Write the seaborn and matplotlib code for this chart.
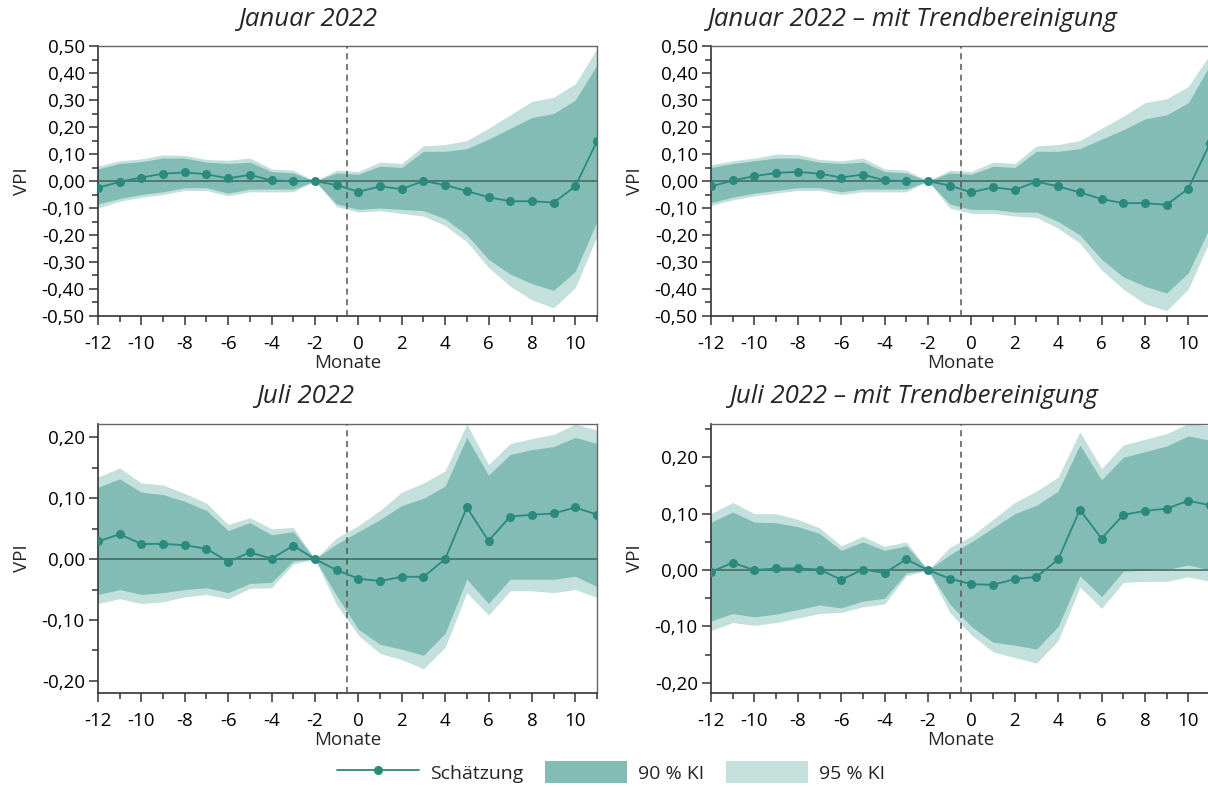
import numpy as np
import pandas as pd
import matplotlib
matplotlib.use("Agg")
import matplotlib.pyplot as plt
import matplotlib.ticker as mticker
from matplotlib.lines import Line2D
from matplotlib.patches import Patch
import seaborn as sns

# ---------------- data ----------------
months = list(range(-12, 12))

# Januar 2022
jan_est = [-0.025, -0.003, 0.013, 0.027, 0.032, 0.025, 0.010, 0.023, 0.002, 0.000, 0.0, -0.015,
           -0.040, -0.020, -0.030, 0.000, -0.015, -0.037, -0.060, -0.075, -0.075, -0.080, -0.020, 0.148]
jan_up90 = [0.045, 0.065, 0.072, 0.085, 0.085, 0.070, 0.065, 0.070, 0.035, 0.030, 0.0, 0.030,
            0.025, 0.055, 0.050, 0.110, 0.110, 0.120, 0.155, 0.195, 0.235, 0.250, 0.300, 0.430]
jan_up95 = [0.055, 0.075, 0.082, 0.097, 0.095, 0.080, 0.077, 0.085, 0.045, 0.040, 0.0, 0.040,
            0.035, 0.070, 0.065, 0.130, 0.135, 0.150, 0.195, 0.245, 0.295, 0.310, 0.360, 0.490]
jan_lo90 = [-0.085, -0.065, -0.050, -0.040, -0.025, -0.025, -0.045, -0.030, -0.030, -0.030, 0.0, -0.085,
            -0.105, -0.100, -0.105, -0.110, -0.140, -0.200, -0.290, -0.345, -0.380, -0.405, -0.335, -0.150]
jan_lo95 = [-0.100, -0.075, -0.060, -0.050, -0.035, -0.035, -0.055, -0.040, -0.040, -0.040, 0.0, -0.095,
            -0.115, -0.110, -0.120, -0.130, -0.165, -0.225, -0.320, -0.390, -0.440, -0.470, -0.395, -0.205]

# Januar 2022 - mit Trendbereinigung
jant_est = [-0.020, 0.002, 0.018, 0.030, 0.034, 0.027, 0.013, 0.024, 0.002, 0.000, 0.0, -0.017,
            -0.042, -0.023, -0.033, -0.002, -0.020, -0.042, -0.067, -0.082, -0.082, -0.088, -0.028, 0.140]
jant_up90 = [0.050, 0.065, 0.075, 0.085, 0.085, 0.070, 0.065, 0.070, 0.035, 0.030, 0.0, 0.030,
             0.025, 0.055, 0.050, 0.110, 0.110, 0.120, 0.155, 0.190, 0.230, 0.245, 0.290, 0.430]
jant_up95 = [0.060, 0.075, 0.085, 0.100, 0.098, 0.080, 0.075, 0.085, 0.045, 0.040, 0.0, 0.040,
             0.035, 0.070, 0.065, 0.130, 0.135, 0.150, 0.195, 0.240, 0.290, 0.305, 0.350, 0.470]
jant_lo90 = [-0.080, -0.060, -0.045, -0.035, -0.025, -0.025, -0.040, -0.030, -0.030, -0.030, 0.0, -0.085,
             -0.105, -0.105, -0.115, -0.115, -0.150, -0.200, -0.290, -0.355, -0.390, -0.415, -0.340, -0.170]
jant_lo95 = [-0.090, -0.070, -0.055, -0.045, -0.035, -0.035, -0.050, -0.040, -0.040, -0.040, 0.0, -0.100,
             -0.120, -0.120, -0.130, -0.135, -0.175, -0.230, -0.330, -0.400, -0.455, -0.480, -0.400, -0.220]

# Juli 2022
jul_est = [0.029, 0.041, 0.025, 0.025, 0.023, 0.017, -0.004, 0.011, 0.001, 0.022, 0.0, -0.018,
           -0.032, -0.036, -0.029, -0.029, 0.000, 0.085, 0.030, 0.070, 0.073, 0.075, 0.085, 0.073]
jul_up90 = [0.118, 0.132, 0.110, 0.106, 0.095, 0.080, 0.047, 0.060, 0.040, 0.045, 0.0, 0.025,
            0.045, 0.065, 0.088, 0.100, 0.120, 0.200, 0.138, 0.172, 0.180, 0.185, 0.200, 0.190]
jul_up95 = [0.135, 0.150, 0.125, 0.122, 0.108, 0.092, 0.057, 0.068, 0.050, 0.052, 0.0, 0.035,
            0.055, 0.080, 0.110, 0.125, 0.145, 0.222, 0.155, 0.190, 0.198, 0.205, 0.222, 0.212]
jul_lo90 = [-0.058, -0.050, -0.058, -0.055, -0.050, -0.047, -0.055, -0.040, -0.038, -0.003, 0.0, -0.060,
            -0.115, -0.140, -0.148, -0.158, -0.122, -0.033, -0.073, -0.033, -0.033, -0.033, -0.028, -0.045]
jul_lo95 = [-0.073, -0.065, -0.073, -0.070, -0.062, -0.058, -0.065, -0.048, -0.047, -0.008, 0.0, -0.075,
            -0.125, -0.155, -0.165, -0.180, -0.145, -0.055, -0.092, -0.052, -0.052, -0.055, -0.050, -0.063]

# Juli 2022 - mit Trendbereinigung
jult_est = [-0.003, 0.013, 0.000, 0.003, 0.003, 0.001, -0.017, 0.001, -0.005, 0.019, 0.0, -0.015,
            -0.025, -0.026, -0.016, -0.012, 0.019, 0.107, 0.056, 0.098, 0.105, 0.109, 0.123, 0.115]
jult_up90 = [0.085, 0.103, 0.085, 0.084, 0.077, 0.065, 0.035, 0.050, 0.035, 0.043, 0.0, 0.027,
             0.050, 0.075, 0.100, 0.115, 0.140, 0.222, 0.160, 0.200, 0.210, 0.220, 0.238, 0.230]
jult_up95 = [0.100, 0.120, 0.100, 0.100, 0.090, 0.075, 0.043, 0.060, 0.042, 0.050, 0.0, 0.040,
             0.060, 0.090, 0.120, 0.140, 0.165, 0.245, 0.180, 0.222, 0.232, 0.242, 0.260, 0.255]
jult_lo90 = [-0.090, -0.077, -0.083, -0.078, -0.070, -0.062, -0.067, -0.055, -0.050, -0.005, 0.0, -0.060,
             -0.100, -0.128, -0.133, -0.140, -0.100, -0.010, -0.047, -0.002, 0.000, 0.001, 0.009, 0.000]
jult_lo95 = [-0.107, -0.093, -0.098, -0.093, -0.085, -0.077, -0.075, -0.065, -0.060, -0.010, 0.0, -0.075,
             -0.115, -0.145, -0.155, -0.165, -0.125, -0.030, -0.068, -0.022, -0.020, -0.020, -0.012, -0.020]

titles = ["Januar 2022", "Januar 2022 \u2013 mit Trendbereinigung",
          "Juli 2022", "Juli 2022 \u2013 mit Trendbereinigung"]

# ---------------- style ----------------
sns.set_theme(style="white")
plt.rcParams["font.family"] = ["Open Sans", "DejaVu Sans"]

c_line = "#2b8a7d"
c_90 = "#82bcb4"
c_95 = "#c3e0dc"
c_zero = "#3e6660"

panels = [
    (titles[0], jan_est, jan_lo90, jan_up90, jan_lo95, jan_up95, (-0.5, 0.5), [0.0811, 0.5985, 0.4131, 0.343]),
    (titles[1], jant_est, jant_lo90, jant_up90, jant_lo95, jant_up95, (-0.5, 0.5), [0.5886, 0.5985, 0.4131, 0.343]),
    (titles[2], jul_est, jul_lo90, jul_up90, jul_lo95, jul_up95, (-0.22, 0.222), [0.0811, 0.1194, 0.4131, 0.3418]),
    (titles[3], jult_est, jult_lo90, jult_up90, jult_lo95, jult_up95, (-0.218, 0.259), [0.5886, 0.1194, 0.4131, 0.3418]),
]
title_pos = [(0.255, 0.975), (0.755, 0.975), (0.2525, 0.4956), (0.756, 0.4956)]

fmt = mticker.FuncFormatter(lambda v, p: f"{v:.2f}".replace(".", ",").replace("\u2212", "-"))

fig = plt.figure(figsize=(12.08, 7.87), dpi=100)

for i, (title, est, lo90, up90, lo95, up95, ylim, pos) in enumerate(panels):
    ax = fig.add_axes(pos)
    df = pd.DataFrame({"Monat": months, "VPI": est})
    ax.fill_between(months, lo95, up95, color=c_95, linewidth=0, zorder=1)
    ax.fill_between(months, lo90, up90, color=c_90, linewidth=0, zorder=2)
    ax.axhline(0, color=c_zero, lw=1.1, zorder=3)
    ax.axvline(-0.5, color="#555555", lw=1.1, ls=(0, (4, 3)), zorder=3)
    sns.lineplot(data=df, x="Monat", y="VPI", ax=ax, color=c_line, lw=1.3,
                 marker="o", markersize=6.5, markeredgewidth=0, zorder=4)

    ax.set_xlim(-12, 11)
    ax.set_ylim(*ylim)
    ax.xaxis.set_major_locator(mticker.MultipleLocator(2))
    ax.xaxis.set_minor_locator(mticker.MultipleLocator(1))
    ax.yaxis.set_major_locator(mticker.MultipleLocator(0.1))
    ax.yaxis.set_minor_locator(mticker.MultipleLocator(0.05))
    ax.yaxis.set_major_formatter(fmt)
    ax.xaxis.set_major_formatter(mticker.FuncFormatter(lambda v, p: f"{v:.0f}"))
    ax.tick_params(axis="both", which="both", direction="out", colors="#333333",
                   labelcolor="black", labelsize=13.5, width=1.1, bottom=True, left=True)
    ax.tick_params(axis="both", which="major", length=6.5)
    ax.tick_params(axis="both", which="minor", length=4)
    ax.tick_params(axis="x", which="major", pad=7)
    ax.tick_params(axis="y", which="major", pad=3)

    for side in ["left", "bottom"]:
        ax.spines[side].set_color("#333333")
        ax.spines[side].set_linewidth(1.2)
    for side in ["top", "right"]:
        ax.spines[side].set_color("#666666")
        ax.spines[side].set_linewidth(1.0)

    ax.set_xlabel("Monate", fontsize=13.5, labelpad=1)
    ax.set_ylabel("VPI", fontsize=13.5, labelpad=8)
    ax.grid(False)

    fig.text(*title_pos[i], title, ha="center", va="center", fontsize=18.5, style="italic")

handles = [
    Line2D([0], [0], color=c_line, lw=1.3, marker="o", markersize=6.5, markeredgewidth=0),
    Patch(facecolor=c_90, edgecolor="none"),
    Patch(facecolor=c_95, edgecolor="none"),
]
fig.legend(handles, ["Sch\u00e4tzung", "90 % KI", "95 % KI"], loc="center",
           bbox_to_anchor=(0.506, 0.019), ncol=3, frameon=False, fontsize=14,
           handlelength=4.2, handleheight=1.3, columnspacing=1.1, handletextpad=0.6)

fig.savefig("out.png", dpi=100)
